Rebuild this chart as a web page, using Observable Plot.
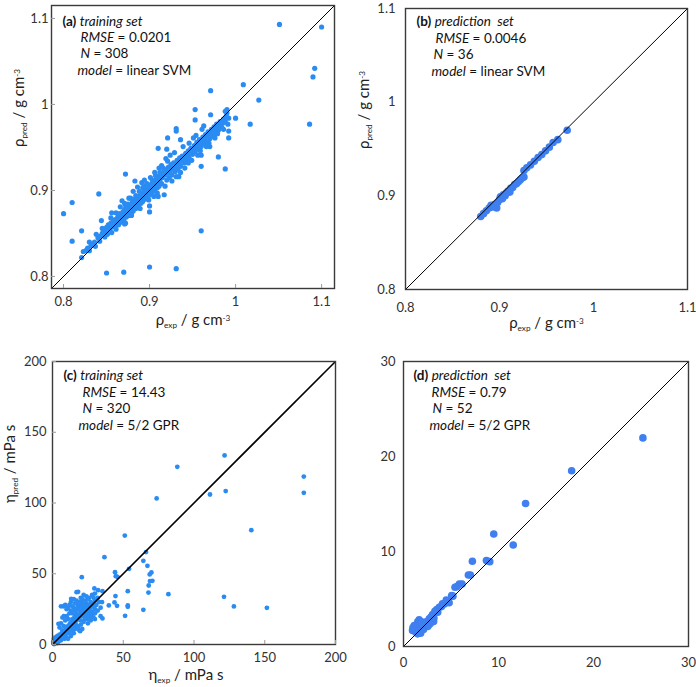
<!DOCTYPE html>
<html><head><meta charset="utf-8">
<script src="https://cdn.jsdelivr.net/npm/d3@7"></script>
<script src="https://cdn.jsdelivr.net/npm/@observablehq/plot@0.6"></script>
<style>
body{margin:0;background:#fff;}
#wrap{position:relative;width:696px;height:687px;font-family:Lato,sans-serif;background:#fff;}
.panel{position:absolute;}
</style></head><body><div id="wrap"></div>
<script>
// ---------- tick values / labels ----------
const densTicksA = [0.8, 0.9, 1, 1.1];
const densTickLabels = ["0.8", "0.9", "1", "1.1"];
const viscTicksC = [0, 50, 100, 150, 200];
const viscTickLabelsC = ["0", "50", "100", "150", "200"];
const viscTicksD = [0, 10, 20, 30];
const viscTickLabelsD = ["0", "10", "20", "30"];

// ---------- (a) density, training set: [exp, pred] ----------
const densTrainExp = [
 1.051,1.100,1.092,1.090,1.086,1.009,1.027,1.017,0.971,1.000,0.991,0.988,0.980,0.960,0.960,0.953,0.953,0.971,0.963,0.970,0.960,0.920,0.919,0.931,0.931,0.921,0.936,0.910,0.872,0.883,0.841,0.810,0.800,0.810,0.821,0.830,0.844,0.850,0.870,0.900,0.931,0.900,0.900,0.934,0.910,0.868,0.856,0.945,0.992,0.992,
 0.821,0.823,0.826,0.828,0.830,0.832,0.834,0.836,0.837,0.840,0.842,0.843,0.845,0.846,0.848,0.849,0.850,0.851,0.852,0.854,0.855,0.856,0.857,0.858,0.860,0.860,0.861,0.862,0.863,0.864,0.865,0.866,0.867,0.868,0.869,0.870,0.870,0.871,0.872,0.873,0.874,0.875,0.876,0.877,0.878,0.879,0.880,0.880,0.881,0.882,0.883,0.884,0.885,0.886,0.887,0.888,0.889,0.890,0.890,0.891,0.892,0.893,0.894,0.895,0.896,0.897,0.898,0.899,0.900,0.900,0.901,0.902,0.903,0.904,0.905,0.906,0.907,0.908,0.909,0.910,0.910,0.911,0.912,0.913,0.914,0.915,0.916,0.917,0.918,0.919,0.920,0.921,0.922,0.923,0.924,0.925,0.926,0.927,0.928,0.930,0.931,0.932,0.933,0.934,0.935,0.936,0.937,0.938,0.940,0.941,0.942,0.943,0.944,0.945,0.946,0.947,0.948,0.950,0.951,0.952,0.953,0.954,0.955,0.956,0.957,0.958,0.960,0.961,0.962,0.963,0.964,0.965,0.966,0.967,0.968,0.970,0.971,0.972,0.973,0.974,0.975,0.976,0.977,0.978,0.980,0.981,0.982,0.984,0.985,0.986,0.988,0.989,0.990,0.990,0.988,0.992,
 0.861,0.866,0.871,0.876,0.881,0.886,0.891,0.894,0.901,0.906,0.911,0.914,0.921,0.924,0.929,0.939,0.946,0.951,0.954,0.961,
 0.871,0.879,0.889,0.899,0.909,0.918,0.926,0.931,0.936,0.941,0.949,0.956,0.959,0.966,0.969,0.976,0.979,0.986,
 0.884,0.888,0.892,0.896,0.903,0.907,0.912,0.916,0.905,0.895,0.885,0.875,0.865,0.855,0.845,0.838,0.872,0.878,0.893,0.897
];
const densTrainPred = [
 1.093,1.090,1.042,1.032,0.977,1.023,1.005,0.977,1.016,0.984,0.977,0.925,0.939,0.928,0.853,0.994,0.982,0.988,0.975,0.951,0.941,0.948,0.937,0.972,0.969,0.961,0.959,0.949,0.919,0.911,0.896,0.886,0.873,0.841,0.853,0.840,0.865,0.804,0.805,0.811,0.809,0.875,0.882,0.916,0.893,0.888,0.874,0.932,0.961,0.969,
 0.822,0.829,0.830,0.833,0.830,0.836,0.838,0.840,0.835,0.845,0.841,0.847,0.850,0.855,0.846,0.852,0.857,0.849,0.860,0.855,0.862,0.851,0.858,0.865,0.860,0.866,0.855,0.863,0.869,0.860,0.866,0.872,0.863,0.868,0.875,0.865,0.871,0.878,0.862,0.869,0.875,0.880,0.871,0.877,0.883,0.874,0.880,0.887,0.876,0.884,0.890,0.879,0.886,0.892,0.882,0.888,0.894,0.885,0.891,0.897,0.887,0.893,0.899,0.890,0.895,0.901,0.892,0.898,0.904,0.895,0.900,0.907,0.897,0.903,0.910,0.900,0.906,0.913,0.903,0.909,0.916,0.905,0.912,0.919,0.908,0.915,0.921,0.895,0.918,0.924,0.912,0.920,0.927,0.915,0.922,0.930,0.918,0.925,0.932,0.922,0.928,0.935,0.925,0.931,0.938,0.928,0.934,0.940,0.932,0.937,0.943,0.935,0.940,0.946,0.938,0.943,0.949,0.942,0.947,0.952,0.945,0.950,0.956,0.948,0.953,0.959,0.951,0.956,0.962,0.954,0.960,0.965,0.957,0.963,0.968,0.960,0.966,0.971,0.963,0.969,0.974,0.966,0.972,0.977,0.970,0.975,0.980,0.973,0.978,0.983,0.980,0.986,0.990,0.994,0.992,0.984,
 0.874,0.881,0.885,0.891,0.899,0.904,0.909,0.912,0.915,0.921,0.926,0.929,0.934,0.941,0.944,0.951,0.955,0.961,0.964,0.971,
 0.861,0.871,0.879,0.889,0.897,0.905,0.911,0.916,0.921,0.926,0.935,0.941,0.946,0.951,0.955,0.961,0.966,0.971,
 0.894,0.899,0.903,0.906,0.912,0.917,0.921,0.926,0.893,0.899,0.891,0.884,0.873,0.868,0.856,0.849,0.883,0.891,0.904,0.908
];

// ---------- (b) density, prediction set ----------
const densPredExp = [0.880,0.883,0.886,0.889,0.891,0.893,0.895,0.897,0.898,0.900,0.901,0.903,0.904,0.906,0.907,0.909,0.911,0.912,0.914,0.916,0.918,0.920,0.922,0.924,0.926,0.926,0.929,0.933,0.937,0.941,0.945,0.949,0.953,0.957,0.962,0.972];
const densPredPred = [0.878,0.881,0.884,0.887,0.890,0.888,0.891,0.887,0.893,0.896,0.899,0.897,0.901,0.900,0.903,0.905,0.904,0.908,0.909,0.912,0.913,0.915,0.917,0.919,0.920,0.927,0.930,0.933,0.937,0.941,0.944,0.948,0.952,0.957,0.960,0.970];

// ---------- (c) viscosity, training set ----------
const viscTrainExp = [
 121.6,88.2,177.6,177.6,111.3,122.4,73.6,140.5,51.1,36.7,66.1,64.2,67.1,69.9,68.7,68.9,70.6,68.0,67.8,54.1,44.2,44.7,45.9,81.9,121.2,128.2,151.5,64.2,53.2,53.2,53.2,51.3,44.5,43.8,45.6,39.8,35.3,35.3,29.6,32.2,20.7,18.1,19.5,4.2,13.2,7.8,
 0.5,1,1,1.5,2,2,2.5,3,3,3.5,4,4,4.5,5,5,5.5,6,6,6.5,7,7,7.5,8,8,8.5,9,9,9.5,10,10,10.5,11,11,11.5,12,12,12.5,13,13,13.5,14,14,14.5,15,15,15.5,16,16,16.5,17,17,17.5,18,18,18.5,19,19,19.5,20,20,20.5,21,21,21.5,22,22,22.5,23,23,24,24,24.5,25,25,26,26,27,27,28,28,29,29,30,30,31,32,33,34,35,
 5,6,7,8,9,10,11,12,13,14,15,16,17,18,19,20,21,22,24,26,28,30,8,10,13,15,17,6,9,12,7,11,14,16,18,20,22,24,26,28,30,23,25,
 10,12,14,16,18,20,22,24,26,28,30,32,34,19,15,13,11,21,25,27,29,
 1,2,0.5,1.5,2.5,3,4,3.5,4.5,5.5,6.5,7.5
];
const viscTrainPred = [
 133.6,125.6,118.7,107.2,106.0,108.4,103.2,80.8,77.0,61.7,65.3,59.1,55.6,50.9,49.5,44.8,45.0,41.7,36.7,53.5,51.1,48.3,47.8,35.6,33.7,26.9,25.9,24.5,37.7,27.6,26.6,20.3,34.2,29.7,27.3,27.6,18.4,37.7,39.6,38.4,47.6,37.2,9.4,14.6,32.3,26.9,
 1,2,4,0.5,3,5,1.5,2,4,6,3,5,2.5,4,7,5,3,6,8,5,7,9,6,8,4,7,10,9,8,11,12,9,13,10,11,14,15,12,10,16,13,18,14,15,12,19,16,20,14,17,22,25,18,13,21,20,27,24,22,17,28,25,30,20,23,28,26,31,21,25,29,27,22,32,28,24,30,26,23,29,33,27,31,25,28,33,30,26,30,
 12,15,10,13,17,20,18,22,24,27,26,29,31,28,30,33,32,35,34,33,35,36,20,25,30,32,37,27,28,28,19,26,22,24,26,26,24,22,20,20,18,18,18,
 5,8,10,11,12,14,16,19,18,21,22,24,20,10,8,6,4,11,15,17,19,
 0.3,1,2,3,4,5,2,1,3,5,6,6
];

// ---------- (d) viscosity, prediction set ----------
const viscPredExp = [25.2,17.7,12.85,9.5,11.55,7.25,8.73,9.08,6.83,7.04,6.16,5.88,5.63,5.42,5.07,4.72,4.3,4.0,3.77,3.5,3.3,3.06,3.17,2.9,2.71,2.54,2.4,2.2,2.04,1.9,1.83,1.65,1.7,1.5,1.4,1.3,1.48,1.13,0.95,1.0,1.2,1.6,1.8,2.1,2.6,2.8,3.2,3.6,4.1,4.5,4.8,5.2];
const viscPredPred = [21.96,18.5,15.06,11.84,10.68,8.97,9.04,8.93,7.53,7.53,6.58,6.58,6.3,6.23,5.36,4.76,4.48,4.2,4.13,3.9,3.71,3.36,2.63,3.1,2.91,2.1,2.6,2.4,2.38,2.6,1.96,2.8,2.2,2.6,2.3,1.5,1.33,2.2,1.68,2.0,1.8,1.6,1.4,1.8,2.2,2.4,3.0,3.6,4.5,4.9,4.6,5.3];

// ---------- texts ----------
const annA = ["#(a)# *training set*", "*RMSE* = 0.0201", "*N* = 308", "*model* = linear SVM"];
const annB = ["#(b)# *prediction  set*", "*RMSE* = 0.0046", "*N* = 36", "*model* = linear SVM"];
const annC = ["#(c)# *training set*", "*RMSE* = 14.43", "*N* = 320", "*model* = 5/2 GPR"];
const annD = ["#(d)# *prediction  set*", "*RMSE* = 0.79", "*N* = 52", "*model* = 5/2 GPR"];
const densXLabel = "ρ_{exp} / g cm^{-3}";
const densYLabel = "ρ_{pred} / g cm^{-3}";
const viscXLabel = "η_{exp} / mPa s";
const viscYLabel = "η_{pred} / mPa s";

function rich(svg) {
  const re = /(#[^#]+#|\*[^*]+\*|_\{[^}]+\}|\^\{[^}]+\})/g;
  svg.querySelectorAll("text").forEach(t => {
    const s = t.textContent;
    if (!/[#*]|_\{|\^\{/.test(s)) return;
    const fs = parseFloat(t.getAttribute("font-size") || getComputedStyle(t).fontSize) || 12;
    t.textContent = "";
    t.setAttribute("style", (t.getAttribute("style") || "") + ";white-space:pre");
    let shift = 0;
    for (const part of s.split(re)) {
      if (!part) continue;
      const ts = document.createElementNS("http://www.w3.org/2000/svg", "tspan");
      let txt = part, want = 0, size = null;
      if (part.startsWith("#")) { txt = part.slice(1, -1); ts.setAttribute("font-weight", "bold"); }
      else if (part.startsWith("*")) { txt = part.slice(1, -1); ts.setAttribute("font-style", "italic"); }
      else if (part.startsWith("_{")) { txt = part.slice(2, -1); want = fs * 0.25; size = fs * 0.68; }
      else if (part.startsWith("^{")) { txt = part.slice(2, -1); want = -fs * 0.38; size = fs * 0.68; }
      if (size) ts.setAttribute("font-size", size);
      const d = want - shift;
      if (d) ts.setAttribute("dy", d);
      shift = want;
      ts.textContent = txt;
      t.appendChild(ts);
    }
  });
}

function panel(cfg) {
  const pts = cfg.xs.map((x, i) => ({x, y: cfg.ys[i]}));
  const fmt = d => cfg.labels[cfg.ticks.indexOf(d)];
  const ann = cfg.ann.map((s, i) => Plot.text([s], {
    text: d => d, frameAnchor: "top-left", dx: cfg.annDx[i], dy: cfg.annDy[i],
    lineAnchor: "middle", textAnchor: "start", fontSize: 13.5, fill: "#111"
  }));
  const marks = [
    Plot.dot(pts, {x: "x", y: "y", r: cfg.r, fill: cfg.color}),
    Plot.link([cfg.domain], {x1: d => d[0], y1: d => d[0], x2: d => d[1], y2: d => d[1], stroke: "#000", strokeWidth: cfg.diagW}),
    Plot.frame({stroke: "#3a3a3a", strokeWidth: 1.4}),
    Plot.axisX({ticks: cfg.ticks, tickFormat: fmt, tickSize: cfg.inner ? -4 : 0, tickPadding: cfg.xPad, fontSize: 13, stroke: "#999", fill: "#333"}),
    Plot.axisY({ticks: cfg.ticks, tickFormat: fmt, tickSize: cfg.inner ? -4 : 0, tickPadding: cfg.yPad, fontSize: 13, stroke: "#999", fill: "#333"}),
    ...ann
  ];
  if (cfg.xlabel) marks.push(Plot.text([cfg.xlabel], {text: d => d, frameAnchor: "bottom", dx: cfg.xlDx || 0, dy: cfg.xlDy, lineAnchor: "middle", fontSize: 15, fill: "#222"}));
  if (cfg.ylabel) marks.push(Plot.text([cfg.ylabel], {text: d => d, frameAnchor: "left", dx: cfg.ylDx, rotate: -90, lineAnchor: "middle", fontSize: 15, fill: "#222"}));
  const chart = Plot.plot({
    width: cfg.w, height: cfg.h,
    marginLeft: cfg.m[0], marginRight: cfg.m[1], marginTop: cfg.m[2], marginBottom: cfg.m[3],
    x: {domain: cfg.domain, label: null},
    y: {domain: cfg.domain, label: null},
    style: {fontFamily: "Lato, sans-serif", fontSize: "12px", background: "transparent", overflow: "visible"},
    marks
  });
  rich(chart);
  const div = document.createElement("div");
  div.className = "panel";
  div.style.left = cfg.left + "px";
  div.style.top = cfg.top + "px";
  div.appendChild(chart);
  document.getElementById("wrap").appendChild(div);
}

panel({left: 0, top: 0, w: 348, h: 335, m: [51, 14, 5, 47], domain: [0.786, 1.115],
  ticks: densTicksA, labels: densTickLabels, xs: densTrainExp, ys: densTrainPred, r: 2.6, color: "#2a8cf2", diagW: 1,
  inner: true, xPad: 12, yPad: 7, ann: annA, annDx: [11, 29, 29, 26], annDy: [16, 32, 48, 65],
  xlabel: densXLabel, xlDy: 32, ylabel: densYLabel, ylDx: -32});
panel({left: 348, top: 0, w: 348, h: 335, m: [57, 9, 8, 46], domain: [0.8, 1.1],
  ticks: densTicksA, labels: densTickLabels, xs: densPredExp, ys: densPredPred, r: 3.8, color: "#3f7ff0", diagW: 1,
  inner: false, xPad: 13, yPad: 10, ann: annB, annDx: [11, 30, 28, 26], annDy: [13, 30, 46, 63],
  xlabel: densXLabel, xlDy: 34, ylabel: densYLabel, ylDx: -41});
panel({left: 0, top: 340, w: 348, h: 347, m: [52, 13, 21, 43], domain: [0, 200],
  ticks: viscTicksC, labels: viscTickLabelsC, xs: viscTrainExp, ys: viscTrainPred, r: 2.4, color: "#2a8cf2", diagW: 1.6,
  inner: true, xPad: 12, yPad: 10, ann: annC, annDx: [11, 30, 30, 26], annDy: [14, 31, 47, 64],
  xlabel: viscXLabel, xlDy: 31, xlDx: -8, ylabel: viscYLabel, ylDx: -42});
panel({left: 348, top: 340, w: 348, h: 347, m: [55, 8, 21, 41], domain: [0, 30],
  ticks: viscTicksD, labels: viscTickLabelsD, xs: viscPredExp, ys: viscPredPred, r: 3.8, color: "#3f7ff0", diagW: 1,
  inner: false, xPad: 11, yPad: 8, ann: annD, annDx: [10, 28, 29, 26], annDy: [14, 31, 47, 64]});
</script></body></html>
